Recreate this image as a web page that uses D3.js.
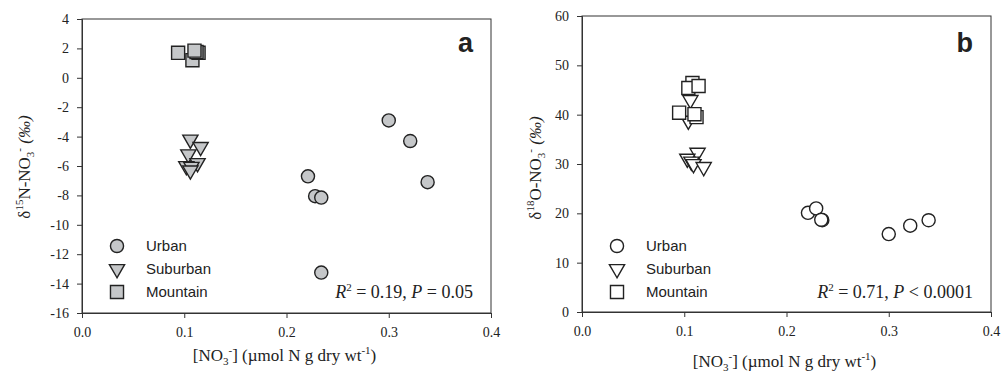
<!DOCTYPE html>
<html>
<head>
<meta charset="utf-8">
<script src="https://cdn.jsdelivr.net/npm/d3@7"></script>
<style>
  body { margin: 0; background: #fff; }
  .serif { font-family: "Liberation Serif", "Times New Roman", serif; fill: #222; }
  .sans { font-family: "Liberation Sans", Arial, sans-serif; fill: #222; }
</style>
</head>
<body>
<svg id="chart" width="1003" height="373"></svg>
<script>
// panel a: d15N vs [NO3-]
const urbanN = [[0.300, -2.9], [0.321, -4.3], [0.338, -7.1], [0.221, -6.7], [0.228, -8.05], [0.234, -8.15], [0.234, -13.25]];
const suburbanN = [[0.106, -4.2], [0.116, -4.7], [0.104, -5.2], [0.113, -5.8], [0.102, -6.0], [0.107, -6.05], [0.106, -6.3]];
const mountainN = [[0.094, 1.7], [0.108, 1.2], [0.114, 1.7], [0.112, 1.75], [0.110, 1.85]];

// panel b: d18O vs [NO3-]
const urbanO = [[0.221, 20.1], [0.229, 21.0], [0.235, 18.6], [0.234, 18.7], [0.300, 15.8], [0.321, 17.5], [0.339, 18.6]];
const suburbanO = [[0.106, 43.0], [0.104, 38.8], [0.113, 32.3], [0.103, 31.1], [0.107, 30.5], [0.109, 30.0], [0.119, 29.4]];
const mountainO = [[0.108, 46.4], [0.104, 45.4], [0.114, 45.8], [0.095, 40.4], [0.112, 39.5], [0.110, 40.1]];

const xTicks = [0.0, 0.1, 0.2, 0.3, 0.4];
const yTicksA = [4, 2, 0, -2, -4, -6, -8, -10, -12, -14, -16];
const yTicksB = [0, 10, 20, 30, 40, 50, 60];
const legendLabels = ['Urban', 'Suburban', 'Mountain'];

const serif = '"Liberation Serif", "Times New Roman", serif';
const svg = d3.select('#chart');

function panel(opt) {
  const g = svg.append('g');
  const x = d3.scaleLinear().domain([0, 0.4]).range([opt.left, opt.right]);
  const y = d3.scaleLinear().domain(opt.yDomain).range([opt.bottom, opt.top]);

  // frame
  g.append('rect')
    .attr('x', opt.left).attr('y', opt.top)
    .attr('width', opt.right - opt.left).attr('height', opt.bottom - opt.top)
    .attr('fill', 'none').attr('stroke', '#333').attr('stroke-width', 1);

  const xa = g.append('g')
    .attr('transform', `translate(0,${opt.bottom})`)
    .call(d3.axisBottom(x).tickValues(xTicks).tickFormat(d3.format('.1f')).tickSize(5).tickPadding(9));
  const ya = g.append('g')
    .attr('transform', `translate(${opt.left},0)`)
    .call(d3.axisLeft(y).tickValues(opt.yTicks).tickSize(5).tickPadding(8).tickFormat(d => String(d)));
  [xa, ya].forEach(a => {
    a.attr('font-family', serif).attr('font-size', 14);
    a.select('.domain').attr('stroke', '#333');
    a.selectAll('.tick line').attr('stroke', '#333');
    a.selectAll('.tick text').attr('fill', '#222');
  });

  const fill = opt.fill;
  const stroke = '#222';
  const circle = d3.symbol().type(d3.symbolCircle).size(135);
  const tri = d3.symbol().type(d3.symbolTriangle).size(100);
  const sq = d3.symbol().type(d3.symbolSquare).size(170);

  function draw(data, sym, rot) {
    g.append('g').selectAll('path').data(data).join('path')
      .attr('d', sym)
      .attr('transform', d => `translate(${x(d[0])},${y(d[1])})` + (rot ? ' rotate(180)' : ''))
      .attr('fill', fill).attr('stroke', stroke).attr('stroke-width', 1.4);
  }
  draw(opt.urban, circle, false);
  draw(opt.suburban, tri, true);
  draw(opt.mountain, sq, false);

  // legend
  const syms = [circle, tri, sq];
  const lx = opt.left + 35, ly = [246, 269, 292];
  legendLabels.forEach((lab, i) => {
    g.append('path').attr('d', syms[i])
      .attr('transform', `translate(${lx},${ly[i]})` + (i === 1 ? ' rotate(180)' : ''))
      .attr('fill', fill).attr('stroke', stroke).attr('stroke-width', 1.4);
    g.append('text').attr('class', 'sans').attr('x', lx + 29).attr('y', ly[i] + 5)
      .attr('font-size', 15).text(lab);
  });

  // panel letter
  g.append('text').attr('class', 'sans').attr('x', opt.right - 18).attr('y', 52)
    .attr('text-anchor', 'end').attr('font-size', 27).attr('font-weight', 'bold').text(opt.letter);

  // stats
  const st = g.append('text').attr('class', 'serif').attr('x', opt.right - 18).attr('y', 298)
    .attr('text-anchor', 'end').attr('font-size', 18);
  st.append('tspan').attr('font-style', 'italic').text('R');
  st.append('tspan').attr('dy', -7).attr('font-size', 11).text('2');
  st.append('tspan').attr('dy', 7).text(' = ' + opt.r2 + ', ');
  st.append('tspan').attr('font-style', 'italic').text('P');
  st.append('tspan').text(' ' + opt.p);

  // x title
  const xt = g.append('text').attr('class', 'serif').attr('x', (opt.left + opt.right) / 2 - 2).attr('y', opt.xTitleY)
    .attr('text-anchor', 'middle').attr('font-size', 17);
  xt.append('tspan').text('[NO');
  xt.append('tspan').attr('dy', 4).attr('font-size', 11).text('3');
  xt.append('tspan').attr('dy', -11).attr('font-size', 11).text('-');
  xt.append('tspan').attr('dy', 7).text('] (µmol N g dry wt');
  xt.append('tspan').attr('dy', -7).attr('font-size', 11).text('-1');
  xt.append('tspan').attr('dy', 7).text(')');

  // y title
  const yt = g.append('text').attr('class', 'serif')
    .attr('transform', `translate(${opt.yTitleX},${opt.yTitleMid}) rotate(-90)`)
    .attr('text-anchor', 'middle').attr('font-size', 17);
  yt.append('tspan').text('δ');
  yt.append('tspan').attr('dy', -7).attr('font-size', 11).text(opt.iso);
  yt.append('tspan').attr('dy', 7).text(opt.el + '-NO');
  yt.append('tspan').attr('dy', 4).attr('font-size', 11).text('3');
  yt.append('tspan').attr('dy', -11).attr('font-size', 11).text('-');
  yt.append('tspan').attr('dy', 7).attr('font-style', 'italic').text(' (‰)');
}

panel({
  left: 82, right: 491, top: 19, bottom: 313, yDomain: [-16, 4], yTicks: yTicksA,
  urban: urbanN, suburban: suburbanN, mountain: mountainN, fill: '#c5c7c9',
  letter: 'a', r2: '0.19', p: '= 0.05', iso: '15', el: 'N', xTitleY: 361, yTitleX: 30, yTitleMid: 167
});
panel({
  left: 582, right: 991, top: 16, bottom: 312, yDomain: [0, 60], yTicks: yTicksB,
  urban: urbanO, suburban: suburbanO, mountain: mountainO, fill: '#fff',
  letter: 'b', r2: '0.71', p: '< 0.0001', iso: '18', el: 'O', xTitleY: 367, yTitleX: 541, yTitleMid: 168
});
</script>
</body>
</html>
